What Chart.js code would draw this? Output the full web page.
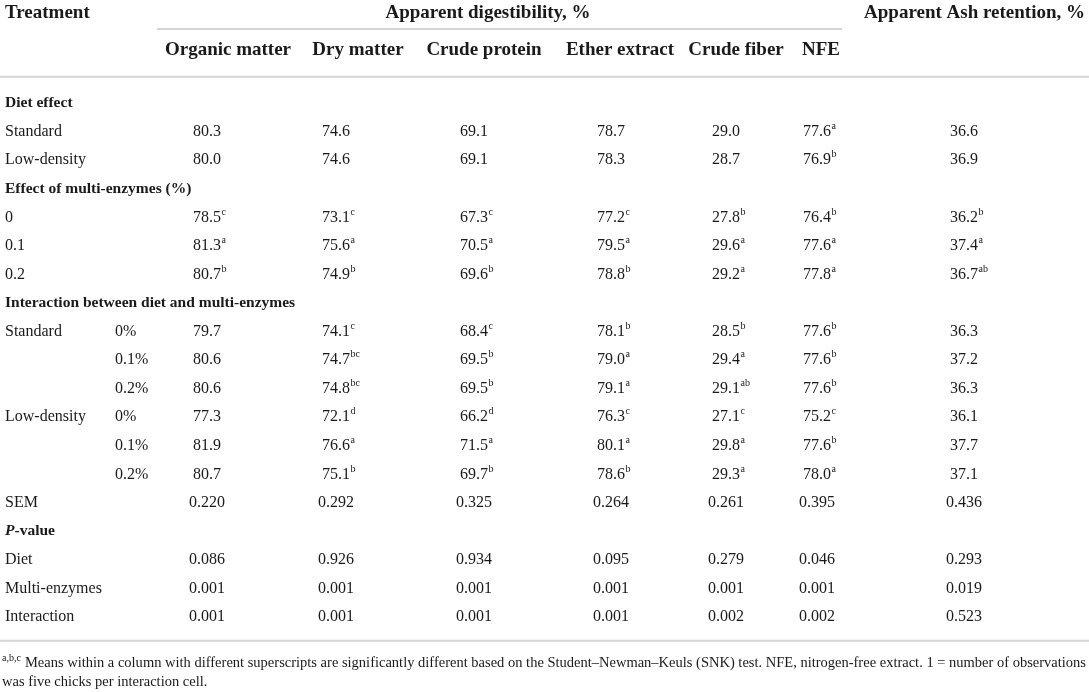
<!DOCTYPE html>
<html>
<head>
<meta charset="utf-8">
<script src="https://cdn.jsdelivr.net/npm/chart.js@4.4.0/dist/chart.umd.min.js"></script>
<style>
  html, body { margin: 0; padding: 0; background: #fff; }
  #wrap { width: 1089px; height: 692px; }
</style>
</head>
<body>
<div id="wrap"><canvas id="table-canvas" width="1089" height="692"></canvas></div>
<script>
// headings
const stubHeading = "Treatment";
const groupHeadings = ["Apparent digestibility, %", "Apparent Ash retention, %"];
const columnNames = ["Organic matter", "Dry matter", "Crude protein", "Ether extract", "Crude fiber", "NFE", ""];
const sectionNames = ["Diet effect", "Effect of multi-enzymes (%)", "Interaction between diet and multi-enzymes", "P-value"];

// row stubs (same order as the value arrays below)
const treatmentLabels = ["Standard", "Low-density", "0", "0.1", "0.2", "Standard", "", "", "Low-density", "", "", "SEM", "Diet", "Multi-enzymes", "Interaction"];
const levelLabels = ["", "", "", "", "", "0%", "0.1%", "0.2%", "0%", "0.1%", "0.2%", "", "", "", ""];

// values per column + superscript letters
const organicMatter    = [80.3, 80.0, 78.5, 81.3, 80.7, 79.7, 80.6, 80.6, 77.3, 81.9, 80.7, 0.220, 0.086, 0.001, 0.001];
const organicMatterSup = ["", "", "c", "a", "b", "", "", "", "", "", "", "", "", "", ""];
const dryMatter        = [74.6, 74.6, 73.1, 75.6, 74.9, 74.1, 74.7, 74.8, 72.1, 76.6, 75.1, 0.292, 0.926, 0.001, 0.001];
const dryMatterSup     = ["", "", "c", "a", "b", "c", "bc", "bc", "d", "a", "b", "", "", "", ""];
const crudeProtein     = [69.1, 69.1, 67.3, 70.5, 69.6, 68.4, 69.5, 69.5, 66.2, 71.5, 69.7, 0.325, 0.934, 0.001, 0.001];
const crudeProteinSup  = ["", "", "c", "a", "b", "c", "b", "b", "d", "a", "b", "", "", "", ""];
const etherExtract     = [78.7, 78.3, 77.2, 79.5, 78.8, 78.1, 79.0, 79.1, 76.3, 80.1, 78.6, 0.264, 0.095, 0.001, 0.001];
const etherExtractSup  = ["", "", "c", "a", "b", "b", "a", "a", "c", "a", "b", "", "", "", ""];
const crudeFiber       = [29.0, 28.7, 27.8, 29.6, 29.2, 28.5, 29.4, 29.1, 27.1, 29.8, 29.3, 0.261, 0.279, 0.001, 0.002];
const crudeFiberSup    = ["", "", "b", "a", "a", "b", "a", "ab", "c", "a", "a", "", "", "", ""];
const nfe              = [77.6, 76.9, 76.4, 77.6, 77.8, 77.6, 77.6, 77.6, 75.2, 77.6, 78.0, 0.395, 0.046, 0.001, 0.002];
const nfeSup           = ["a", "b", "b", "a", "a", "b", "b", "b", "c", "b", "a", "", "", "", ""];
const ashRetention     = [36.6, 36.9, 36.2, 37.4, 36.7, 36.3, 37.2, 36.3, 36.1, 37.7, 37.1, 0.436, 0.293, 0.019, 0.523];
const ashRetentionSup  = ["", "", "b", "a", "ab", "", "", "", "", "", "", "", "", "", ""];

const footnoteMark = "a,b,c";
const footnoteLines = [
  "Means within a column with different superscripts are significantly different based on the Student\u2013Newman\u2013Keuls (SNK) test. NFE, nitrogen-free extract. 1 = number of observations",
  "was five chicks per interaction cell."
];

const series = [organicMatter, dryMatter, crudeProtein, etherExtract, crudeFiber, nfe, ashRetention];
const seriesSup = [organicMatterSup, dryMatterSup, crudeProteinSup, etherExtractSup, crudeFiberSup, nfeSup, ashRetentionSup];

// layout (x in scale units, rows counted top to bottom)
const headCenters = [228, 358, 484, 620, 736, 821];
const colCenters = [207, 336, 474, 611, 726, 817, 964];
const stubX = 5, levelX = 115;
const sectionBefore = [0, 2, 5, 12];

let rowPos = [], sectionPos = [];
let pos = 0;
treatmentLabels.forEach((t, i) => {
  let k = sectionBefore.indexOf(i);
  if (k >= 0) sectionPos[k] = pos++;
  rowPos[i] = pos++;
});

const FONT = "'Liberation Serif', 'DejaVu Serif', serif";

function fmt(v) {
  return v < 1 ? v.toFixed(3) : v.toFixed(1);
}

function text(ctx, str, x, y, size, opts) {
  opts = opts || {};
  ctx.font = (opts.italic ? "italic " : "") + (opts.bold ? "bold " : "") + size + "px " + FONT;
  ctx.textAlign = opts.align || "left";
  ctx.textBaseline = "alphabetic";
  ctx.fillStyle = "#1a1a1a";
  // y is visual center of the line
  ctx.fillText(str, x, y + size * 0.33);
  return ctx.measureText(str).width;
}

function hline(ctx, x1, x2, y) {
  ctx.save();
  ctx.strokeStyle = "#d4d4d4";
  ctx.lineWidth = 2;
  ctx.beginPath();
  ctx.moveTo(x1, y);
  ctx.lineTo(x2, y);
  ctx.stroke();
  ctx.restore();
}

const tablePlugin = {
  id: "tableText",
  afterDatasetsDraw(chart) {
    const ctx = chart.ctx;
    const xs = chart.scales.x, ys = chart.scales.y;
    const X = v => xs.getPixelForValue(v), Y = v => ys.getPixelForValue(v);
    ctx.save();

    // header
    text(ctx, stubHeading, X(stubX), Y(-3.17), 19, { bold: true });
    text(ctx, groupHeadings[0], X(488), Y(-3.17), 19, { bold: true, align: "center" });
    text(ctx, groupHeadings[1], X(1085), Y(-3.17), 19, { bold: true, align: "right" });
    hline(ctx, X(157), X(842), Y(-2.56));
    columnNames.forEach((c, i) => {
      if (c) text(ctx, c, X(headCenters[i]), Y(-1.85), 19, { bold: true, align: "center" });
    });
    hline(ctx, X(0), X(1089), Y(-0.88));

    // section headings
    sectionNames.forEach((s, k) => {
      const y = Y(sectionPos[k]);
      if (s.startsWith("P-")) {
        let w = text(ctx, "P", X(stubX), y, 15.5, { bold: true, italic: true });
        text(ctx, s.slice(1), X(stubX) + w, y, 15.5, { bold: true });
      } else {
        text(ctx, s, X(stubX), y, 15.5, { bold: true });
      }
    });

    // stubs
    treatmentLabels.forEach((t, i) => {
      if (t) text(ctx, t, X(stubX), Y(rowPos[i]), 16);
      if (levelLabels[i]) text(ctx, levelLabels[i], X(levelX), Y(rowPos[i]), 16);
    });

    // cells, placed at the points of each dataset
    chart.data.datasets.forEach((ds, d) => {
      const meta = chart.getDatasetMeta(d);
      meta.data.forEach((pt, i) => {
        const str = fmt(series[d][i]);
        const w = text(ctx, str, pt.x, pt.y, 16, { align: "center" });
        const sup = seriesSup[d][i];
        if (sup) text(ctx, sup, pt.x + w / 2 + 0.5, pt.y - 5, 10);
      });
    });

    // bottom rule + footnote (condensed to fit the width)
    hline(ctx, X(0), X(1089), Y(18.87));
    const fy1 = Y(19.6), fy2 = Y(20.27);
    let mw = text(ctx, footnoteMark, X(2), fy1 - 4, 10);
    ctx.font = "15px " + FONT;
    const x0 = X(2) + mw + 4;
    const sx = Math.min(1, (X(1086) - x0) / ctx.measureText(footnoteLines[0]).width);
    ctx.save();
    ctx.translate(x0, 0);
    ctx.scale(sx, 1);
    text(ctx, footnoteLines[0], 0, fy1, 15);
    ctx.restore();
    ctx.save();
    ctx.translate(X(2), 0);
    ctx.scale(sx, 1);
    text(ctx, footnoteLines[1], 0, fy2, 15);
    ctx.restore();

    ctx.restore();
  }
};

function buildDatasets() {
  return series.map((vals, c) => ({
    label: columnNames[c] || groupHeadings[1],
    data: vals.map((v, i) => ({ x: colCenters[c], y: rowPos[i] })),
    pointRadius: 0,
    pointHoverRadius: 0,
    showLine: false
  }));
}

function setTableChart() {
  const ctxTable = document.getElementById("table-canvas");
  return new Chart(ctxTable, {
    type: "scatter",
    data: { datasets: buildDatasets() },
    options: {
      responsive: false,
      animation: false,
      layout: { padding: 0 },
      plugins: { legend: { display: false }, tooltip: { enabled: false } },
      events: [],
      scales: {
        x: { type: "linear", min: 0, max: 1089, display: false },
        y: { type: "linear", reverse: true, min: -3.572, max: 20.661, display: false }
      }
    },
    plugins: [tablePlugin]
  });
}

var tableChart = setTableChart();
</script>
</body>
</html>
